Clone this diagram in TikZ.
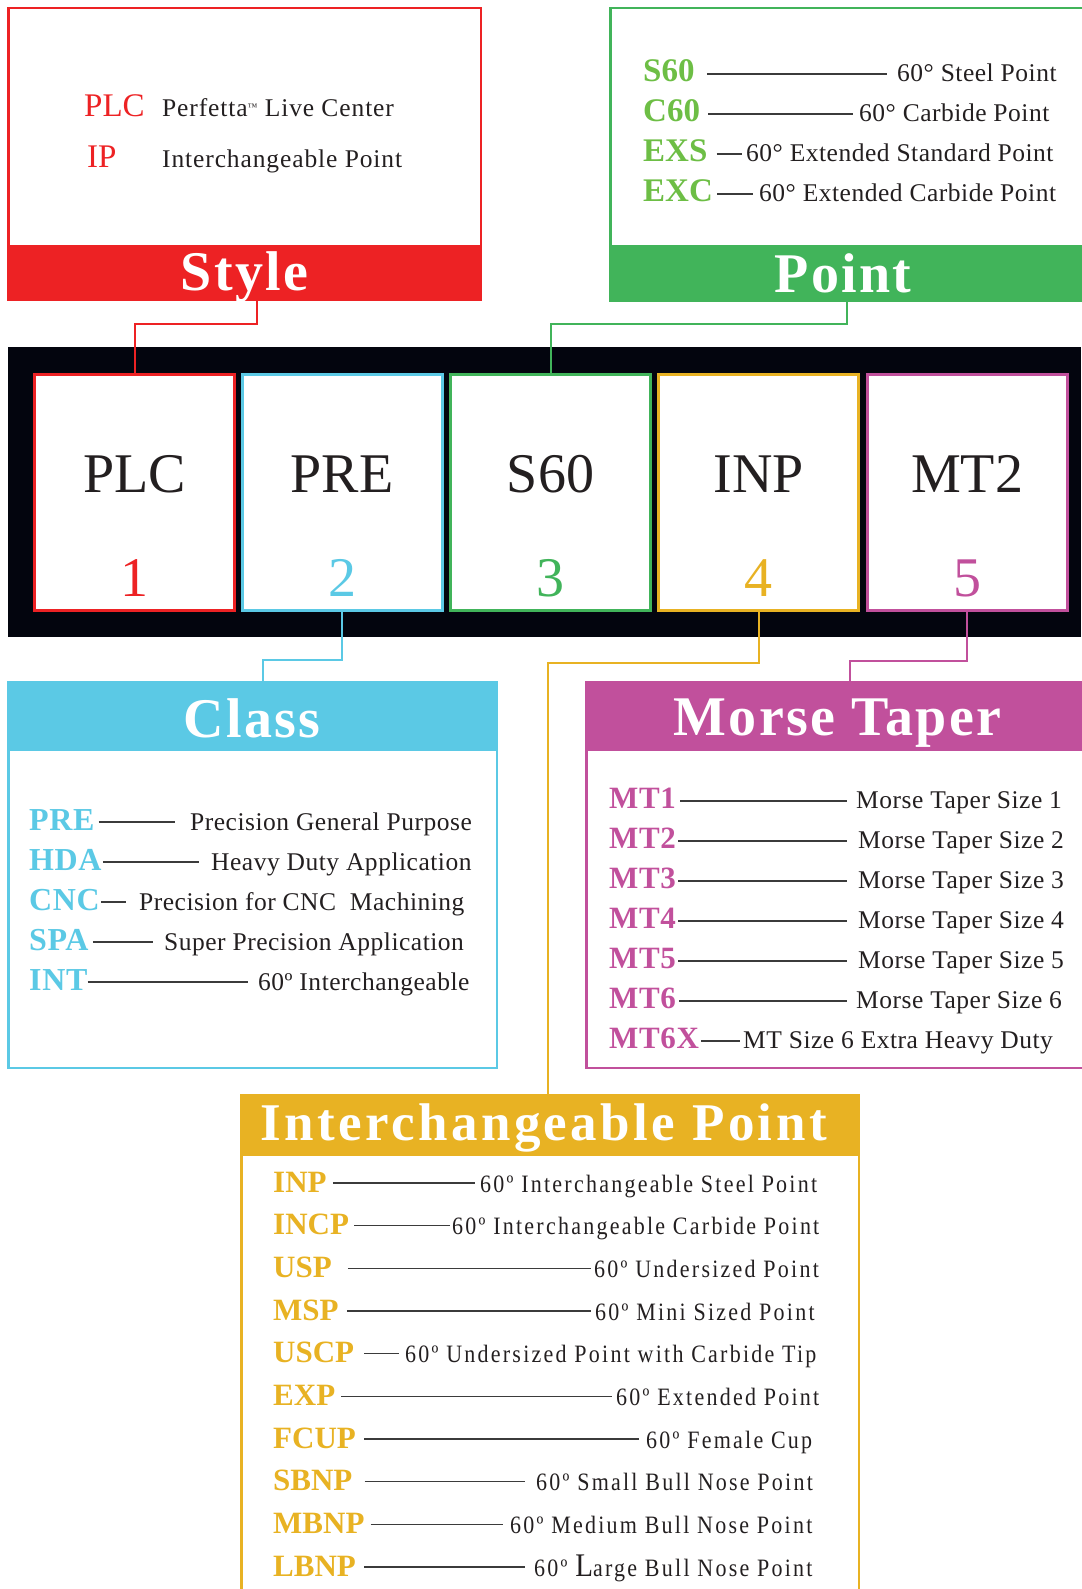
\documentclass[tikz,border=0pt]{standalone}
\usepackage{fontspec}
\setmainfont{Liberation Serif}
\newfontfamily\descfont[LetterSpace=2]{Liberation Serif}
\newfontfamily\stylefont[LetterSpace=3.5]{Liberation Serif}
\newfontfamily\ipdescfont[LetterSpace=9,FakeStretch=0.88]{Liberation Serif}
\newfontfamily\titlefont[LetterSpace=4]{Liberation Serif}
\newfontfamily\iptitlefont[LetterSpace=6.5]{Liberation Serif}
\definecolor{stRed}{HTML}{ED2224}
\definecolor{ptGreen}{HTML}{41B45A}
\definecolor{ptText}{HTML}{6DBE45}
\definecolor{clBlue}{HTML}{5BC9E5}
\definecolor{ipGold}{HTML}{E8B223}
\definecolor{mtPink}{HTML}{C1509C}
\definecolor{ink}{HTML}{03050E}
\definecolor{txt}{HTML}{231F20}
\definecolor{leadgray}{HTML}{3B3B3B}
\begin{document}
\begin{tikzpicture}[x=1pt,y=-1pt,
  frame/.style={draw=#1,line width=2.5pt},
  band/.style={rectangle,fill=#1,inner sep=0pt,outer sep=0pt,anchor=north west},
  hdr/.style={anchor=base,inner sep=0pt,text=white,font=\titlefont\bfseries\fontsize{56}{60}\selectfont},
  codebox/.style={rectangle,draw=#1,fill=white,line width=3pt,minimum width=200pt,minimum height=236pt,inner sep=0pt,outer sep=0pt},
  big/.style={anchor=base,inner sep=0pt,text=#1,font=\fontsize{56}{60}\selectfont},
  code/.style={anchor=base west,inner sep=0pt,text=#1,font=\bfseries\fontsize{31}{36}\selectfont},
  desc/.style={anchor=base west,inner sep=0pt,text=txt,font=\descfont\fontsize{25.5}{30}\selectfont},
  lead/.style={draw=leadgray,line width=1.3pt},
  link/.style={draw=#1,line width=2pt}]
\useasboundingbox (0,0) rectangle (1081,1589);

% Style
\draw[frame=stRed] (8.25,8.25) rectangle (480.75,300);
\node (stylehdr) at (7,245)[band=stRed,minimum width=475pt,minimum height=56pt]{};
\node (styletxt) at (244.5,290)[hdr]{Style};
\node (sc1) at (84,117)[code=stRed,font=\fontsize{33}{36}\selectfont]{PLC};
\node (sd1) at (162,117)[desc,font=\stylefont\fontsize{25.5}{30}\selectfont]{Perfetta\raisebox{6pt}{\fontsize{10}{10}\selectfont ™} Live Center};
\node (sc2) at (87,168)[code=stRed,font=\fontsize{33}{36}\selectfont]{IP};
\node (sd2) at (162,168)[desc,font=\stylefont\fontsize{25.5}{30}\selectfont]{Interchangeable Point};

% Point
\draw[frame=ptGreen] (610.25,8.25) rectangle (1095,300);
\node (pointhdr) at (609,245)[band=ptGreen,minimum width=480pt,minimum height=57pt]{};
\node (pointtxt) at (843,292)[hdr]{Point};
\foreach \k/\d/\x/\ga/\gb [count=\i] in {S60/60° Steel Point/897/12/10,
  C60/60° Carbide Point/859/8/6,
  EXS/60° Extended Standard Point/746/9/4,
  EXC/60° Extended Carbide Point/759/4/6}{
  \node (pc\i) at (643,42+40*\i)[code=ptText,font=\bfseries\fontsize{33}{36}\selectfont]{\k};
  \node (pd\i) at (\x,42+40*\i)[desc]{\d};
  \draw[lead] ([xshift=\ga,yshift=8]pc\i.base east) -- ([xshift=-\gb,yshift=8]pd\i.base west);
}

% code strip
\fill[ink] (8,347) rectangle (1081,637);
\foreach \t/\c/\x [count=\i] in {PLC/stRed/134.5, PRE/clBlue/342, S60/ptGreen/550.5, INP/ipGold/758.5, MT2/mtPink/967}{
  \node (b\i) at (\x,492.5)[codebox=\c]{};
  \node (t\i) at (\x,492)[big=txt]{\t};
  \node (n\i) at (\x,596)[big=\c]{\i};
}

\draw[link=stRed] ([xshift=12.5]stylehdr.south) -- ++(0,23) -| (b1.north);
\draw[link=ptGreen] ([xshift=-2]pointhdr.south) -- ++(0,22) -| (b3.north);

% Class
\draw[frame=clBlue] (8.25,700) rectangle (496.75,1067.75);
\node (classhdr) at (7,681)[band=clBlue,minimum width=491pt,minimum height=70pt]{};
\node (classtxt) at (252,737)[hdr]{Class};
\foreach \k/\d/\x/\ga/\gb [count=\i] in {PRE/Precision General Purpose/190/4/15,
  HDA/Heavy Duty Application/211/1/12,
  CNC/Precision for CNC~~Machining/139/1/13,
  SPA/Super Precision Application/164/4/11,
  INT/60º Interchangeable/258/0/10}{
  \node (cc\i) at (29,790+40*\i)[code=clBlue,font=\descfont\bfseries\fontsize{32}{36}\selectfont]{\k};
  \node (cd\i) at (\x,790+40*\i)[desc]{\d};
  \draw[lead] ([xshift=\ga,yshift=8]cc\i.base east) -- ([xshift=-\gb,yshift=8]cd\i.base west);
}

% Morse Taper
\draw[frame=mtPink] (586.25,700) rectangle (1095,1067.75);
\node (mthdr) at (585,681)[band=mtPink,minimum width=500pt,minimum height=70pt]{};
\node (mttxt) at (837.5,735)[hdr]{Morse Taper};
\foreach \k/\d/\x/\ga/\gb [count=\i] in {MT1/Morse Taper Size 1/856/4/9,
  MT2/Morse Taper Size 2/858/2/11,
  MT3/Morse Taper Size 3/858/2/11,
  MT4/Morse Taper Size 4/858/2/11,
  MT5/Morse Taper Size 5/858/2/11,
  MT6/Morse Taper Size 6/856/3/9,
  MT6X/MT Size 6 Extra Heavy Duty/743/2/3}{
  \node (mc\i) at (609,768+40*\i)[code=mtPink,font=\descfont\bfseries\fontsize{31}{36}\selectfont]{\k};
  \node (md\i) at (\x,768+40*\i)[desc]{\d};
  \draw[lead] ([xshift=\ga,yshift=7]mc\i.base east) -- ([xshift=-\gb,yshift=7]md\i.base west);
}

% Interchangeable Point
\draw[frame=ipGold] (241.25,1110) rectangle (858.75,1600);
\node (iphdr) at (240,1094)[band=ipGold,minimum width=620pt,minimum height=62pt]{};
\node (iptxt) at (543.5,1140)[hdr,font=\iptitlefont\bfseries\fontsize{53}{58}\selectfont]{Interchangeable Point};
\foreach \k/\d/\x/\ga/\gb [count=\i] in {INP/60º Interchangeable Steel Point/480/6/5,
  INCP/60º Interchangeable Carbide Point/452/5/2,
  USP/60º Undersized Point/594/16/3,
  MSP/60º Mini Sized Point/595/8/4,
  USCP/60º Undersized Point with Carbide Tip/405/10/6,
  EXP/60º Extended Point/616/6/4,
  FCUP/60º Female Cup/646/8/7,
  SBNP/60º Small Bull Nose Point/536/12/11,
  MBNP/60º Medium Bull Nose Point/510/6/7,
  LBNP/60º {\fontsize{33}{33}\selectfont L}arge Bull Nose Point/534/8/9}{
  \node (ic\i) at (273,1149.33+42.67*\i)[code=ipGold]{\k};
  \node (id\i) at (\x,1149.33+42.67*\i)[desc,font=\ipdescfont\fontsize{25}{30}\selectfont]{\d};
  \draw[lead] ([xshift=\ga,yshift=9]ic\i.base east) -- ([xshift=-\gb,yshift=9]id\i.base west);
}

\draw[link=clBlue] (b2.south) -- ++(0,49) -| ([xshift=10.5]classhdr.north);
\draw[link=ipGold] (b4.south) -- ++(0,52) -| ([xshift=-2]iphdr.north);
\draw[link=mtPink] (b5.south) -- ++(0,50) -| ([xshift=15]mthdr.north);
\end{tikzpicture}
\end{document}
